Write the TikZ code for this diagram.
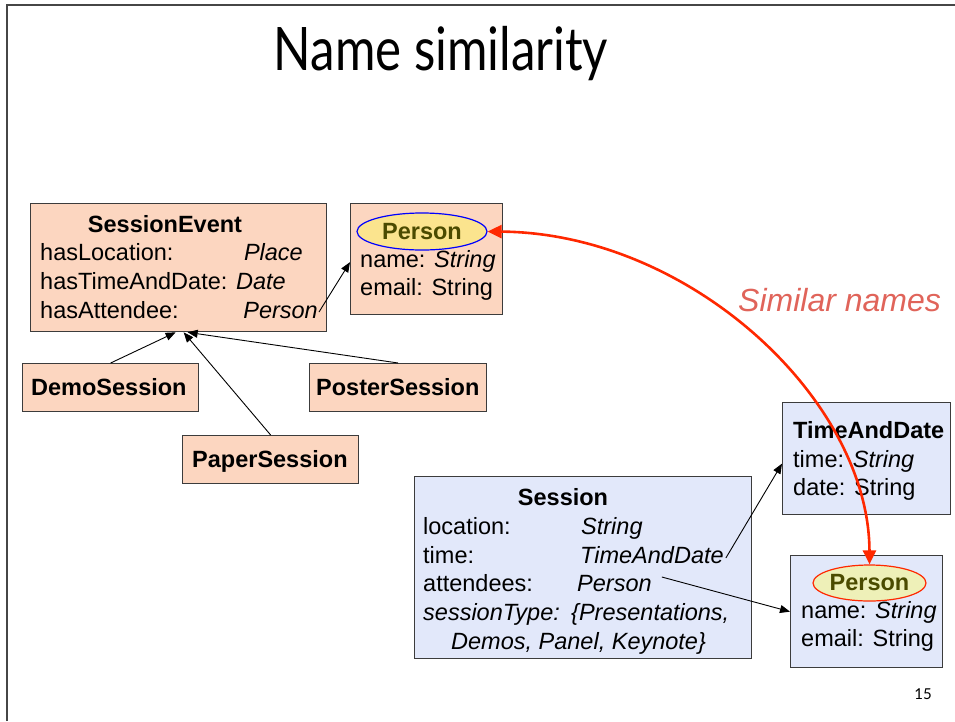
\documentclass[tikz,border=0pt]{standalone}
\usepackage{fontspec}
\setmainfont{Liberation Sans}
\newfontfamily\titlefont{Lato}
\usetikzlibrary{shapes.geometric,arrows.meta}
\definecolor{peach}{RGB}{252,214,192}
\definecolor{lblue}{RGB}{226,232,250}
\definecolor{boxline}{RGB}{60,60,60}
\definecolor{yell}{RGB}{251,228,142}
\definecolor{paleyell}{RGB}{238,240,184}
\definecolor{olive}{RGB}{75,75,0}
\definecolor{redarr}{RGB}{255,40,0}
\definecolor{simred}{RGB}{224,100,90}
\definecolor{framegray}{RGB}{70,70,70}
\tikzset{
  box/.style={draw=boxline, line width=1.3pt, anchor=north west, inner sep=0pt},
  peachbox/.style={box, fill=peach},
  bluebox/.style={box, fill=lblue},
  txt/.style={anchor=base west, inner sep=0pt, font=\fontsize{23.5}{28}\selectfont},
  txte/.style={anchor=base east, inner sep=0pt, font=\fontsize{23.5}{28}\selectfont},
  txtc/.style={anchor=base, inner sep=0pt, font=\fontsize{23.5}{28}\selectfont\bfseries},
  btxt/.style={txt, font=\fontsize{23.5}{28}\selectfont\bfseries},
  ell/.style={ellipse, draw, line width=1.2pt, inner sep=0pt, text=olive,
              font=\fontsize{23.5}{28}\selectfont\bfseries},
  conn/.style={draw=black, line width=0.9pt, -{Triangle[length=10pt,width=8pt]}},
  simarrow/.style={draw=redarr, line width=2.6pt,
     {Triangle[length=14pt,width=13pt]}-{Triangle[length=14pt,width=13pt]}}
}
\begin{document}
\begin{tikzpicture}[x=1pt,y=-1pt]
\useasboundingbox (0,0) rectangle (955,721);
% frame
\draw[framegray, line width=1.5pt] (7,721) -- (7,5) -- (955,5);
% title
\node[anchor=base, inner sep=0pt, font=\titlefont\fontsize{60}{60}\selectfont] (title) at (441,70) {\scalebox{0.82}[1]{Name similarity}};
% page number
\node[anchor=base east, inner sep=0pt, font=\titlefont\fontsize{15}{15}\selectfont] (pnum) at (932,699) {15};

% SessionEvent box
\node[peachbox, minimum width=296, minimum height=128] (se) at (30,203) {};
\node[txtc] (setitle) at (165,232) {SessionEvent};
\node[txt] (sel1) at (40,260) {hasLocation:};
\node[txte] (sel1v) at (303,260) {\textit{Place}};
\node[txt] (sel2) at (40,289) {hasTimeAndDate: \textit{Date}};
\node[txt] (sel3) at (40,318) {hasAttendee:};
\node[txte] (seperson) at (318,318) {\textit{Person}};

% Person box (top)
\node[peachbox, minimum width=152, minimum height=111] (pa) at (350,203) {};
\node[ell, fill=yell, draw=blue, minimum width=130, minimum height=37] (pae) at (422,231.5) {Person};
\node[txt] (pan) at (360,267) {name: \textit{String}};
\node[txt] (pam) at (360,295) {email: String};

% subclasses
\node[peachbox, minimum width=176, minimum height=48] (demo) at (22,363) {};
\node[btxt] at (31,395) {DemoSession};
\node[peachbox, minimum width=177, minimum height=48] (poster) at (309,363) {};
\node[btxt] at (316,395) {PosterSession};
\node[peachbox, minimum width=176, minimum height=48] (paper) at (182,435) {};
\node[btxt] at (192,467) {PaperSession};

% Session box
\node[bluebox, minimum width=337, minimum height=182] (ses) at (414,476) {};
\node[txtc] (sestitle) at (563,505) {Session};
\node[txt] (s1) at (423,534) {location:};
\node[txt] (s1v) at (581,534) {\textit{String}};
\node[txt] (s2) at (423,563) {time:};
\node[txt] (sesstad) at (580,563) {\textit{TimeAndDate}};
\node[txt] (s3) at (423,591) {attendees:};
\node[txt] (sessperson) at (577,591) {\textit{Person}};
\node[txt] (s4) at (423,620) {\textit{sessionType:}};
\node[txt] (s4v) at (571,620) {\textit{\{Presentations,}};
\node[txt] (s5) at (451,649) {\textit{Demos, Panel, Keynote\}}};

% TimeAndDate box
\node[bluebox, minimum width=168, minimum height=112] (tad) at (782,402) {};
\node[btxt] (tadtitle) at (793,438) {TimeAndDate};
\node[txt] (t1) at (793,467) {time: \textit{String}};
\node[txt] (t2) at (793,495) {date: String};

% Person box (bottom)
\node[bluebox, minimum width=152, minimum height=112] (pb) at (790,555) {};
\node[ell, fill=paleyell, draw=redarr, minimum width=113, minimum height=36] (pbe) at (869.5,583) {Person};
\node[txt] (pbn) at (801,618) {name: \textit{String}};
\node[txt] (pbm) at (801,646) {email: String};

% label
\node[anchor=base west, inner sep=0pt, text=simred, font=\fontsize{32}{32}\selectfont\itshape] (sim) at (738,311) {Similar names};

% connectors
\draw[conn] (demo.north) -- ([xshift=-3pt]se.south);
\draw[conn] (paper.north) -- ([xshift=5pt]se.south);
\draw[conn] (poster.north) -- ([xshift=9pt]se.south);
\draw[conn] ([xshift=1pt,yshift=6pt]seperson.base east) -- ([yshift=-3pt]pa.west);
\draw[conn] ([xshift=2pt,yshift=5pt]sesstad.base east) -- ([yshift=-5pt]tad.west);
\draw[conn] ([xshift=10pt,yshift=14pt]sessperson.base east) -- (pb.west);

% similarity arrow
\draw[simarrow] (pae.east) .. controls (690,233) and (869,400) .. (pbe.north);
\end{tikzpicture}
\end{document}
